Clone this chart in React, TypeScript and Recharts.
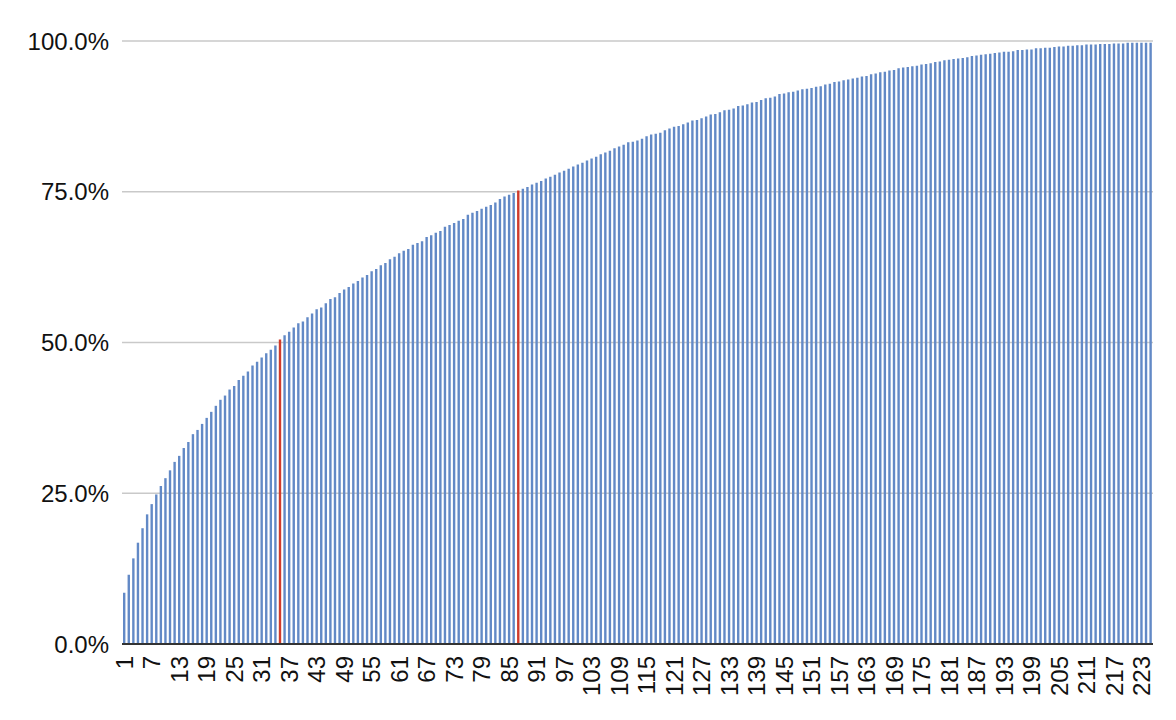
import React from 'react';
import { BarChart, Bar, XAxis, YAxis, CartesianGrid, Cell } from 'recharts';

// Cumulative share (%) for items 1..225
const cumulativeShare: number[] = [
  8.5, 11.5, 14.2, 16.8, 19.2, 21.5, 23.2, 24.8, 26.2, 27.5,
  28.8, 30.2, 31.2, 32.5, 33.5, 34.8, 35.5, 36.5, 37.5, 38.5,
  39.5, 40.5, 41.2, 42.2, 42.8, 43.8, 44.5, 45.2, 46.2, 46.8,
  47.5, 48.2, 48.8, 49.5, 50.5, 51.2, 51.8,
  52.5, 53.2, 53.5, 54.2, 54.8, 55.5, 55.8, 56.5, 57.2, 57.5,
  58.2, 58.8, 59.2, 59.8, 60.2, 60.8, 61.2, 61.8, 62.2, 62.8,
  63.2, 63.8, 64.2, 64.8, 65.2, 65.5, 66.2, 66.5, 66.8, 67.5,
  67.8, 68.2, 68.5, 69.2, 69.5, 69.8, 70.2, 70.5, 71.2, 71.5,
  71.8, 72.2, 72.5, 72.8, 73.2, 73.8, 74.2, 74.5, 74.8, 75.2,
  75.5, 75.8,
  76.2, 76.5, 76.8, 77.2, 77.5, 77.8, 78.2, 78.5, 78.8, 79.2,
  79.5, 79.8, 80.2, 80.5, 80.8, 81.2, 81.5, 81.8, 82.2, 82.5,
  82.8, 83.2, 83.3, 83.5, 83.8, 84.2, 84.5, 84.6, 84.8, 85.2,
  85.5, 85.8, 85.9, 86.2, 86.5, 86.8, 86.9, 87.2, 87.5, 87.8,
  87.9, 88.2, 88.5, 88.6, 88.8, 89.2, 89.3, 89.5, 89.8, 89.9,
  90.2, 90.5, 90.6, 90.8, 91.2, 91.3, 91.5, 91.6, 91.8, 92.0,
  92.1,
  92.2, 92.4, 92.5, 92.8, 92.9, 93.2, 93.3, 93.5, 93.6, 93.8,
  93.9, 94.1, 94.2, 94.5, 94.6, 94.8, 94.9, 95.1, 95.2, 95.5,
  95.6, 95.7, 95.8, 95.9, 96.1, 96.2, 96.3, 96.5, 96.6, 96.8,
  96.9, 97.0, 97.1, 97.2, 97.3, 97.5, 97.6, 97.7, 97.8, 97.9,
  98.0, 98.1, 98.2, 98.2, 98.3, 98.5, 98.5, 98.6, 98.6, 98.8,
  98.8, 98.9, 98.9, 99.0, 99.1, 99.1, 99.2, 99.2, 99.3, 99.3,
  99.4, 99.4, 99.4, 99.5, 99.5, 99.5, 99.6, 99.6, 99.6, 99.7,
  99.7, 99.7, 99.7, 99.7, 99.7,
];

const categories: string[] = cumulativeShare.map((_, i) => String(i + 1));
const highlightedCategories: string[] = ['35', '87'];
const yTicks: number[] = [0, 25, 50, 75, 100];

const data = categories.map((c, i) => ({ category: c, share: cumulativeShare[i] }));

const FONT = '"Liberation Sans", Arial, Helvetica, sans-serif';
const BLUE = '#6289c6';
const RED = '#cf3b2b';

const XTick = (props: any) => {
  const { x, y, payload } = props;
  return (
    <g transform={`translate(${x},${y})`}>
      <text
        transform="rotate(-90)"
        textAnchor="end"
        dy="0.36em"
        fontSize={24}
        fill="#111"
        fontFamily={FONT}
      >
        {payload.value}
      </text>
    </g>
  );
};

export default function App() {
  return (
    <div style={{ position: 'absolute', left: 0, top: 0, width: 1176, height: 720, background: '#fff' }}>
      <BarChart
        width={1176}
        height={720}
        data={data}
        margin={{ top: 41, right: 23, bottom: 0, left: 0 }}
        barCategoryGap="25%"
      >
        <CartesianGrid vertical={false} stroke="#c9c9c9" strokeWidth={1.5} />
        <XAxis
          dataKey="category"
          interval={5}
          height={76}
          tickSize={0}
          tickMargin={12}
          tickLine={false}
          axisLine={{ stroke: '#333', strokeWidth: 2 }}
          tick={<XTick />}
        />
        <YAxis
          domain={[0, 100]}
          ticks={yTicks}
          width={122}
          tickSize={0}
          tickMargin={13}
          tickLine={false}
          axisLine={false}
          tickFormatter={(v: number) => `${v.toFixed(1)}%`}
          tick={{ fontSize: 24, fill: '#111', fontFamily: FONT }}
        />
        <Bar dataKey="share" isAnimationActive={false} fill={BLUE} barSize={2.4}>
          {data.map((d) => (
            <Cell key={d.category} fill={highlightedCategories.includes(d.category) ? RED : BLUE} />
          ))}
        </Bar>
      </BarChart>
    </div>
  );
}
